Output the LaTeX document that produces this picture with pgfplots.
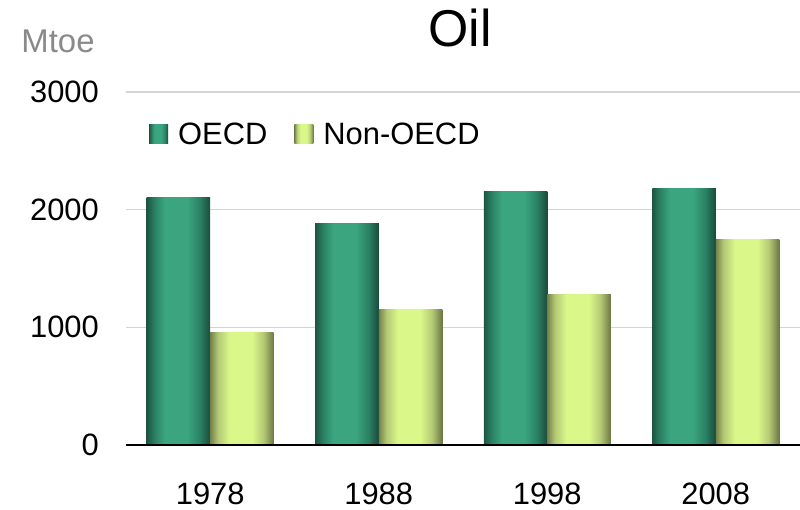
\documentclass[border=0pt]{standalone}
\usepackage{pgfplots}
\pgfplotsset{compat=1.18}
\usepackage{fontspec}
\setmainfont{Liberation Sans}
\definecolor{oD}{HTML}{1C5643}
\definecolor{oM}{HTML}{2A8063}
\definecolor{oL}{HTML}{3AA57F}
\definecolor{oR}{HTML}{1A4B3A}
\definecolor{nD}{HTML}{74824A}
\definecolor{nM}{HTML}{B3C874}
\definecolor{nL}{HTML}{DAF78A}
\definecolor{nR}{HTML}{6B7744}
\definecolor{gridc}{HTML}{D4D4D4}
\definecolor{mtoe}{HTML}{8A8A8A}
\pgfdeclarehorizontalshading{oecdshade}{100bp}{color(0bp)=(oD); color(25bp)=(oD); color(31bp)=(oM); color(39bp)=(oL); color(57bp)=(oL); color(67bp)=(oM); color(75bp)=(oR); color(100bp)=(oR)}
\pgfdeclarehorizontalshading{nonshade}{100bp}{color(0bp)=(nD); color(25bp)=(nD); color(31bp)=(nM); color(40bp)=(nL); color(58bp)=(nL); color(67bp)=(nM); color(75bp)=(nR); color(100bp)=(nR)}
\pgfplotsset{
  oecdbar/.style={ybar, bar width=63.5bp, bar shift=-31.75bp, draw=none, shade, shading=oecdshade,
    legend image code/.code={\path[shade, shading=oecdshade, draw=none] (0bp,-9.5bp) rectangle (19bp,9.5bp);}},
  nonbar/.style={ybar, bar width=63.5bp, bar shift=31.75bp, draw=none, shade, shading=nonshade,
    legend image code/.code={\path[shade, shading=nonshade, draw=none] (0bp,-9.5bp) rectangle (19bp,9.5bp);}},
}
\begin{document}
\begin{tikzpicture}
\useasboundingbox (-126bp,-65bp) rectangle (674bp,445bp);
\begin{axis}[
  scale only axis,
  width=674bp, height=353bp,
  xmin=-0.5, xmax=3.5,
  ymin=0, ymax=3000,
  xtick={0,1,2,3},
  xticklabels={1978,1988,1998,2008},
  ytick={0,1000,2000,3000},
  /pgf/number format/assume math mode=true,
  /pgf/number format/1000 sep={},
  ticklabel style={font=\fontsize{31}{37}\selectfont},
  yticklabel style={inner sep=0pt, anchor=east, xshift=-27bp},
  xticklabel style={inner sep=0pt, anchor=north, yshift=-38bp},
  major tick length=0pt,
  ymajorgrids,
  grid style={line width=1.5bp, gridc},
  axis lines*=left,
  axis line style={-},
  y axis line style={draw=none},
  x axis line style={black, line width=2bp},
  clip=false,
  legend columns=2,
  legend style={at={(23/674,0.881)}, anchor=west, draw=none, fill=none,
    inner sep=0pt, font=\fontsize{31}{37}\selectfont,
    nodes={inner sep=0pt},
    /tikz/every odd column/.append style={column sep=10bp},
    /tikz/every even column/.append style={column sep=27bp}},
  legend cell align=left,
]
\addplot[oecdbar] coordinates {(0,2100)};
\addlegendentry{OECD}
\addplot[nonbar] coordinates {(0,960)};
\addlegendentry{Non-OECD}
\addplot[oecdbar, forget plot] coordinates {(1,1886)};
\addplot[oecdbar, forget plot] coordinates {(2,2158)};
\addplot[oecdbar, forget plot] coordinates {(3,2183)};
\addplot[nonbar, forget plot] coordinates {(1,1155)};
\addplot[nonbar, forget plot] coordinates {(2,1283)};
\addplot[nonbar, forget plot] coordinates {(3,1750)};
\draw[black, line width=2bp] (rel axis cs:0,0) -- (rel axis cs:1,0);
\node[anchor=base, font=\fontsize{52}{60}\selectfont] at (rel axis cs:0.5,1) [xshift=-3bp, yshift=45bp] {Oil};
\node[anchor=center, text=mtoe, font=\fontsize{33}{39}\selectfont] at (rel axis cs:0,1) [xshift=-68bp, yshift=51bp] {Mtoe};
\end{axis}
\end{tikzpicture}
\end{document}
